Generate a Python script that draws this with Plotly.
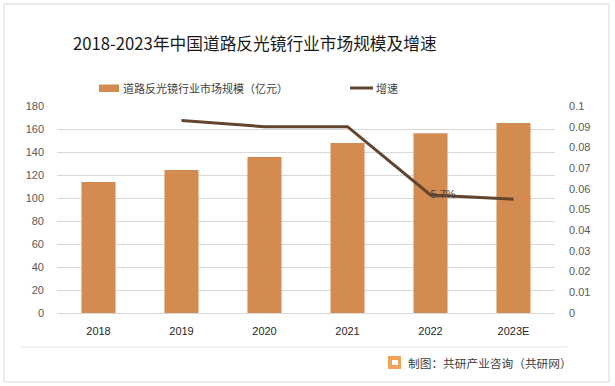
import plotly.graph_objects as go

years = ["2018", "2019", "2020", "2021", "2022", "2023E"]
market_size = [113.9, 124.3, 135.6, 147.8, 156.4, 165.2]
growth = [None, 0.093, 0.090, 0.090, 0.057, 0.055]
growth_labels = ["", "", "", "", "5.7%", ""]

W, H = 615, 386
L, R, T, B = 57, 555, 106, 313

def px(x):
    return (x - L) / (R - L)

def py(y):
    return (B - y) / (B - T)

font_cjk = "Noto Sans CJK SC, Microsoft YaHei, sans-serif"

fig = go.Figure()
fig.add_trace(go.Bar(
    x=years, y=market_size, name="道路反光镜行业市场规模（亿元）",
    marker=dict(color="#D38B4F", line=dict(width=0)), yaxis="y",
))
fig.add_trace(go.Scatter(
    x=years, y=growth, name="增速", mode="lines+text", yaxis="y2",
    line=dict(color="#62452F", width=3),
    text=growth_labels, textposition="middle right",
    textfont=dict(size=11, color="#404040", family="Liberation Sans, Arial"),
    cliponaxis=False,
))

fig.update_layout(
    width=W, height=H,
    margin=dict(l=L, r=W - R, t=T, b=H - B, autoexpand=False),
    paper_bgcolor="white", plot_bgcolor="white",
    bargap=0.59,
    font=dict(family="Liberation Sans, Arial", size=11, color="#595959"),
    showlegend=False,
    xaxis=dict(
        type="category", showgrid=False, showline=True, linecolor="#D9D9D9",
        linewidth=1, ticks="", tickfont=dict(size=11, color="#262626"),
        ticklabelstandoff=8,
    ),
    yaxis=dict(
        range=[0, 180], dtick=20, showgrid=True, gridcolor="#D9D9D9",
        gridwidth=1, zeroline=False, showline=False, ticks="",
        tickfont=dict(size=11, color="#595959"), ticklabelstandoff=12,
    ),
    yaxis2=dict(
        range=[0, 0.1], dtick=0.01, overlaying="y", side="right",
        showgrid=False, zeroline=False, showline=False, ticks="",
        tickfont=dict(size=11, color="#595959"), ticklabelstandoff=13,
        tickformat="~g",
    ),
    annotations=[
        dict(text="2018-2023年中国道路反光镜行业市场规模及增速",
             x=px(255), y=py(43), xref="paper", yref="paper",
             xanchor="center", yanchor="middle", showarrow=False,
             font=dict(family=font_cjk, size=16.7, color="#1a1a1a")),
        dict(text="道路反光镜行业市场规模（亿元）",
             x=px(121), y=py(88), xref="paper", yref="paper",
             xanchor="left", yanchor="middle", showarrow=False,
             font=dict(family=font_cjk, size=11, color="#404040")),
        dict(text="增速",
             x=px(374), y=py(88), xref="paper", yref="paper",
             xanchor="left", yanchor="middle", showarrow=False,
             font=dict(family=font_cjk, size=11, color="#404040")),
        dict(text="制图：共研产业咨询（共研网）",
             x=px(406), y=py(362), xref="paper", yref="paper",
             xanchor="left", yanchor="middle", showarrow=False,
             font=dict(family=font_cjk, size=11.7, color="#404040")),
    ],
    shapes=[
        dict(type="rect", xref="paper", yref="paper",
             x0=px(4), x1=px(609), y0=py(4), y1=py(382),
             line=dict(color="#D9D9D9", width=1), fillcolor="rgba(0,0,0,0)",
             layer="below"),
        dict(type="line", xref="paper", yref="paper",
             x0=px(20), x1=px(567), y0=py(347), y1=py(347),
             line=dict(color="#E6E6E6", width=1)),
        dict(type="rect", xref="paper", yref="paper",
             x0=px(99), x1=px(119), y0=py(84.5), y1=py(92),
             line=dict(width=0), fillcolor="#D38B4F"),
        dict(type="line", xref="paper", yref="paper",
             x0=px(350), x1=px(373), y0=py(88), y1=py(88),
             line=dict(color="#62452F", width=3)),
        dict(type="rect", xref="paper", yref="paper",
             x0=px(388), x1=px(401), y0=py(356), y1=py(369),
             line=dict(width=0), fillcolor="#F4A25A"),
        dict(type="rect", xref="paper", yref="paper",
             x0=px(392), x1=px(398), y0=py(360), y1=py(365),
             line=dict(width=0), fillcolor="white"),
    ],
)

fig.write_html("out.html", post_script="document.body.style.margin='0';",
               config={"displayModeBar": False})
